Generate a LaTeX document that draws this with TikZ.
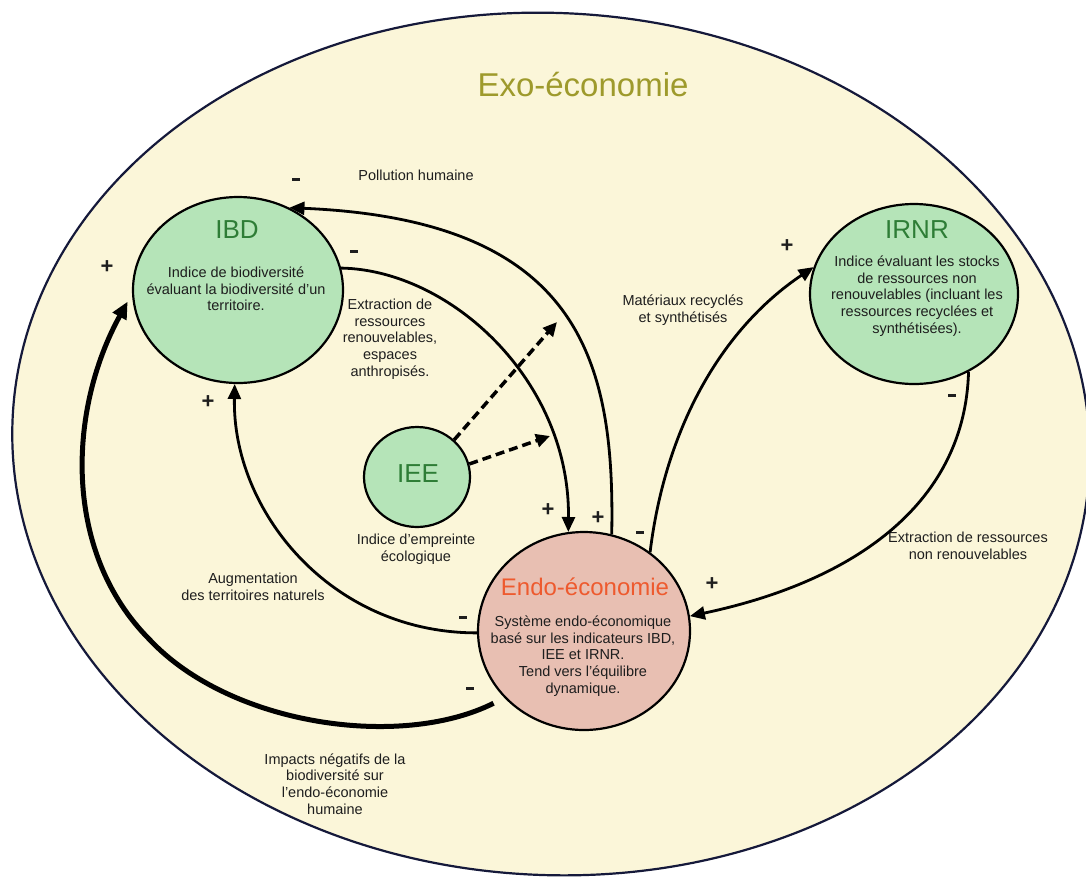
\documentclass[tikz,border=0pt]{standalone}
\usepackage{fontspec}
\setmainfont{Liberation Sans}
\usetikzlibrary{shapes.geometric,arrows.meta}
\definecolor{cream}{HTML}{FBF6D9}
\definecolor{navy}{HTML}{15193A}
\definecolor{circgreen}{HTML}{B5E4B8}
\definecolor{endopink}{HTML}{E8BFB2}
\definecolor{titlegreen}{HTML}{2E7D36}
\definecolor{endored}{HTML}{EE5A2E}
\definecolor{olive}{HTML}{9E9A2C}
\definecolor{txt}{HTML}{1E1E1E}
\begin{document}
\begin{tikzpicture}[x=1pt,y=-1pt,
 bubble/.style={ellipse, draw=black, line width=2.2pt, inner sep=0pt},
 title/.style={font=\fontsize{26}{28}\selectfont, text=titlegreen, inner sep=0pt},
 desc/.style={font=\fontsize{14.5}{16.7}\selectfont, text=txt, align=center, inner sep=0pt},
 sign/.style={font=\fontsize{22}{22}\selectfont\bfseries, text=txt, inner sep=0pt},
 minus/.style={fill=txt, minimum width=8pt, minimum height=3pt, inner sep=0pt},
 link/.style={line width=2.8pt, -{Triangle[length=15pt,width=13pt]}},
 thicklink/.style={line width=5pt, -{Triangle[length=17pt,width=15pt]}},
 dlink/.style={line width=3.5pt, dash pattern=on 9pt off 5pt, -{Triangle[length=14pt,width=13pt]}}
]
\useasboundingbox (0,0) rectangle (1086,876);
\clip (0,0) rectangle (1086,876);
\fill[white] (0,0) rectangle (1086,876);
\draw[fill=cream, draw=navy, line width=2.2pt, rotate around={-3:(551,444)}] (551,444) ellipse [x radius=539pt, y radius=431pt];

% bubbles
\node[bubble, fill=circgreen, minimum width=210pt, minimum height=186pt] (ibd) at (238,290) {};
\node[bubble, fill=circgreen, minimum width=208pt, minimum height=180pt] (irnr) at (914,294) {};
\node[bubble, fill=circgreen, minimum width=106pt, minimum height=100pt] (iee) at (417,477) {};
\node[bubble, fill=endopink, minimum width=212pt, minimum height=198pt] (endo) at (584,631) {};

% titles and descriptions
\node[font=\fontsize{33}{35}\selectfont, text=olive, inner sep=0pt] (exoT) at (583,85) {Exo-économie};
\node[title] (ibdT) at (237,230) {IBD};
\node[desc] (ibdD) at (236,289) {Indice de biodiversité\\évaluant la biodiversité d’un\\territoire.};
\node[title] (irnrT) at (917,230) {IRNR};
\node[desc] (irnrD) at (917,296) {Indice évaluant les stocks\\de ressources non\\renouvelables (incluant les\\ressources recyclées et\\synthétisées).};
\node[title] (ieeT) at (418,474) {IEE};
\node[desc] (ieeD) at (416,549) {Indice d’empreinte\\écologique};
\node[font=\fontsize{24}{26}\selectfont, text=endored, inner sep=0pt] (endoT) at (585,587) {Endo-économie};
\node[desc] (endoD) at (583,656) {Système endo-économique\\basé sur les indicateurs IBD,\\IEE et IRNR.\\Tend vers l’équilibre\\dynamique.};

% connector labels
\node[desc] (lpol) at (416,175) {Pollution humaine};
\node[desc] (lext) at (390,339) {Extraction de\\ressources\\renouvelables,\\espaces\\anthropisés.};
\node[desc] (laug) at (253,587) {Augmentation\\des territoires naturels};
\node[desc] (limp) at (335,784) {Impacts négatifs de la\\biodiversité sur\\l’endo-économie\\humaine};
\node[desc] (lmat) at (683,310) {Matériaux recyclés\\et synthétisés};
\node[desc] (lenr) at (968,546) {Extraction de ressources\\non renouvelables};

% connectors
\draw[link] (endo.74) .. controls (615,360) and (580,220) .. (ibd.58);
\draw[link] (ibd.12) .. controls (450,270) and (570,380) .. (endo.99);
\draw[link] (endo.181) .. controls (330,633) and (232,510) .. (ibd.268);
\coordinate (impmid) at (150,640);
\draw[thicklink, shorten <=12pt, shorten >=9pt] (endo.220) .. controls (400,750) and (230,725) .. (impmid) .. controls (62,552) and (68,410) .. (ibd.182);
\draw[link] (endo.50) .. controls (665,430) and (720,330) .. (irnr.165);
\draw[link] (irnr.-55) .. controls (965,500) and (860,580) .. (endo.8);
\coordinate (d1) at (557,322);
\coordinate (d2) at (550,436);
\draw[dlink] (iee.45) -- (d1);
\draw[dlink] (iee.14) -- (d2);

% signs
\node[minus] (s1) at (296,179) {};
\node[sign] (s2) at (598,518) {+};
\node[minus] (s3) at (354,251) {};
\node[sign] (s4) at (548,510) {+};
\node[minus] (s5) at (463,617) {};
\node[sign] (s6) at (208,402) {+};
\node[minus] (s7) at (470,688) {};
\node[sign] (s8) at (107,267) {+};
\node[minus] (s9) at (640,532) {};
\node[sign] (s10) at (787,246) {+};
\node[minus] (s11) at (952,395) {};
\node[sign] (s12) at (712,584) {+};
\end{tikzpicture}
\end{document}
